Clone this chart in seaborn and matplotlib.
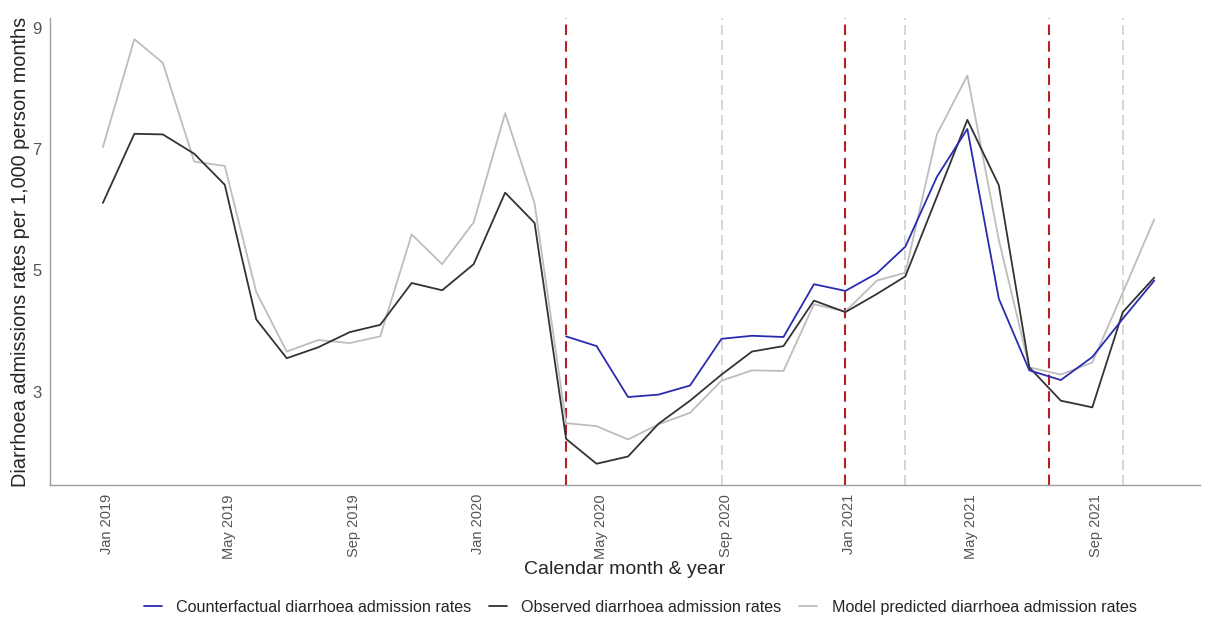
import numpy as np
import pandas as pd
import matplotlib
matplotlib.use("Agg")
import matplotlib.pyplot as plt
import matplotlib.dates as mdates
import matplotlib.transforms as mtransforms
from matplotlib.lines import Line2D
import seaborn as sns

# Monthly rates per 1,000 person months
months = pd.date_range("2019-01-01", "2021-11-01", freq="MS")

observed = [
    6.11, 7.25, 7.24, 6.92, 6.41, 4.19, 3.55, 3.73, 3.98, 4.10, 4.79, 4.67,
    5.10, 6.28, 5.78, 2.22, 1.81, 1.93, 2.47, 2.85, 3.28, 3.66, 3.75, 4.50,
    4.31, 4.61, 4.90, 6.21, 7.48, 6.40, 3.40, 2.85, 2.74, 4.31, 4.88,
]
model_predicted = [
    7.03, 8.81, 8.42, 6.79, 6.72, 4.64, 3.66, 3.85, 3.80, 3.91, 5.59, 5.10,
    5.79, 7.59, 6.10, 2.48, 2.43, 2.21, 2.46, 2.65, 3.18, 3.35, 3.34, 4.44,
    4.32, 4.83, 4.96, 7.24, 8.21, 5.50, 3.40, 3.28, 3.48, 4.63, 5.84,
]
# Counterfactual starts in April 2020
counterfactual_start = "2020-04-01"
counterfactual = [
    3.91, 3.75, 2.91, 2.95, 3.10, 3.87, 3.92, 3.90, 4.77, 4.66,
    4.95, 5.39, 6.54, 7.33, 4.53, 3.35, 3.19, 3.57, 4.20, 4.83,
]

# Intervention dates (red) and follow-up markers (grey)
intervention_dates = ["2020-04-01", "2021-01-01", "2021-07-20"]
followup_dates = ["2020-09-01", "2021-03-01", "2021-10-01"]

labels = [
    "Counterfactual diarrhoea admission rates",
    "Observed diarrhoea admission rates",
    "Model predicted diarrhoea admission rates",
]
colors = ["#2B2BB0", "#333333", "#BDBDBD"]

cf_months = months[months >= pd.Timestamp(counterfactual_start)]
df = pd.concat([
    pd.DataFrame({"month": cf_months, "rate": counterfactual, "series": labels[0]}),
    pd.DataFrame({"month": months, "rate": observed, "series": labels[1]}),
    pd.DataFrame({"month": months, "rate": model_predicted, "series": labels[2]}),
], ignore_index=True)

sns.set_style("white")
plt.rcParams["font.family"] = ["Liberation Sans", "DejaVu Sans"]

fig = plt.figure(figsize=(12.06, 6.19), dpi=100)
ax = fig.add_axes([0.0415, 0.2165, 0.9535, 0.7545])

for d in intervention_dates:
    ax.axvline(pd.Timestamp(d), color="#B22222", lw=1.5, dashes=(5, 3), zorder=1)
for d in followup_dates:
    ax.axvline(pd.Timestamp(d), color="#CFCFCF", lw=1.2, dashes=(6, 3), zorder=1)

draw_order = [labels[2], labels[1], labels[0]]
palette = dict(zip(labels, colors))
sns.lineplot(data=df, x="month", y="rate", hue="series", hue_order=draw_order,
             palette=palette, linewidth=1.3, ax=ax, legend=False, zorder=3)

# Axis limits: margin before the first month and a little past the last one
ax.set_xlim(months[0] - pd.Timedelta(days=52), months[-1] + pd.Timedelta(days=45))
ymin, ymax = min(observed), max(model_predicted)
ypad = (ymax - ymin) * 0.05
ax.set_ylim(ymin - ypad, ymax + ypad)

ax.set_yticks([3, 5, 7, 9])
tick_dates = pd.date_range("2019-01-01", "2021-09-01", freq="4MS")
ax.set_xticks(tick_dates)
ax.xaxis.set_major_formatter(mdates.DateFormatter("%b %Y"))
ax.tick_params(axis="x", labelrotation=90, labelsize=10.5, colors="#555555",
               length=3, width=0.8)
ax.tick_params(axis="y", labelsize=12, colors="#555555", length=3, width=0.8,
               pad=3)
shift = mtransforms.ScaledTranslation(4 / 100, 0, fig.dpi_scale_trans)
for lab in ax.get_xticklabels():
    lab.set_color("#555555")
    lab.set_transform(lab.get_transform() + shift)
for lab in ax.get_yticklabels():
    lab.set_color("#555555")

for side in ["top", "right"]:
    ax.spines[side].set_visible(False)
for side in ["left", "bottom"]:
    ax.spines[side].set_color("#9E9E9E")
    ax.spines[side].set_linewidth(1.0)

ax.set_xlabel("Calendar month & year", fontsize=14, labelpad=2)
ax.set_ylabel("Diarrhoea admissions rates per 1,000 person months", fontsize=14.3,
              labelpad=2)

handles = [Line2D([0], [0], color=c, lw=1.3) for c in colors]
fig.legend(handles, labels, loc="lower center", ncol=3, frameon=False,
           fontsize=11.6, bbox_to_anchor=(0.531, -0.017), handlelength=1.1,
           columnspacing=1.1, handletextpad=0.9)

fig.savefig("out.png", dpi=100)
